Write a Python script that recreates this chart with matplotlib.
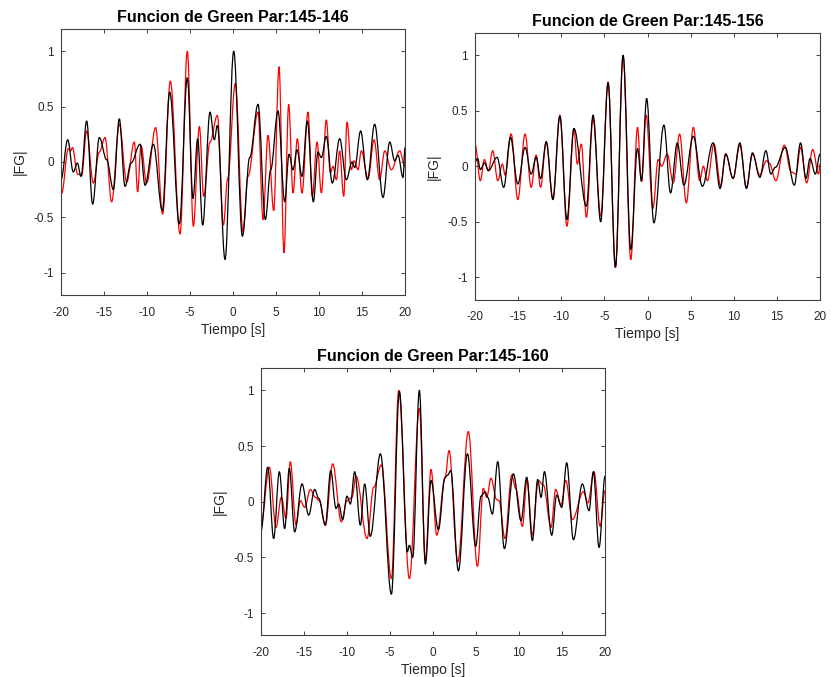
import matplotlib
matplotlib.use("Agg")
import matplotlib.pyplot as plt
from matplotlib.path import Path
from matplotlib.patches import PathPatch

plt.rcParams['font.family'] = ['Liberation Sans', 'DejaVu Sans']
plt.rcParams['axes.unicode_minus'] = False

# Panel 1: Par 145-146 (peaks/troughs)
t1_black = [-20.0, -19.22, -18.57, -18.10, -17.67, -17.02, -16.32, -15.54, -14.69, -13.91,
            -13.22, -12.56, -11.86, -10.81, -10.23, -9.26, -8.22, -7.36, -6.24, -5.31,
            -4.65, -4.11, -3.53, -2.67, -2.17, -1.82, -0.93, 0.08, 1.09, 1.94,
            2.91, 3.76, 4.38, 5.23, 6.01, 6.51, 6.98, 7.44, 8.02, 8.64,
            9.34, 9.88, 10.27, 10.85, 11.55, 12.40, 13.18, 13.84, 14.15, 14.84,
            15.62, 16.47, 17.44, 18.22, 18.80, 19.19, 19.77, 20.0]
y1_black = [-0.16, 0.20, -0.09, -0.01, -0.13, 0.37, -0.38, 0.22, 0.02, -0.25,
            0.39, -0.22, -0.01, 0.16, -0.21, 0.16, -0.44, 0.63, -0.56, 0.76,
            -0.33, 0.21, -0.57, 0.45, 0.20, 0.33, -0.88, 1.0, -0.67, 0.04,
            0.52, -0.52, -0.07, 0.46, -0.36, 0.07, -0.07, 0.11, -0.13, 0.37,
            -0.36, 0.09, 0.04, 0.23, -0.19, 0.21, -0.16, 0.0, -0.05, 0.28,
            -0.16, 0.34, -0.32, 0.18, 0.01, 0.06, -0.14, 0.13]
t1_red = [-20.0, -19.92, -19.15, -18.90, -18.68, -18.06, -17.60, -17.02, -16.24, -15.54,
          -14.88, -14.11, -13.22, -12.36, -11.47, -11.09, -10.70, -10.04, -9.0, -8.18,
          -7.29, -6.16, -5.31, -4.61, -3.91, -3.41, -2.67, -1.82, -1.12, -0.62,
          0.27, 1.16, 1.74, 2.91, 3.49, 4.07, 4.73, 5.35, 5.93, 6.47,
          6.98, 7.48, 8.02, 8.72, 9.22, 9.77, 10.27, 10.85, 11.32, 11.63,
          12.02, 12.40, 12.87, 13.26, 13.76, 14.07, 14.53, 14.92, 15.70, 16.40,
          17.05, 17.64, 18.41, 19.38, 20.0]
y1_red = [-0.21, -0.28, 0.12, 0.10, 0.13, -0.11, -0.12, 0.28, -0.19, 0.09,
          0.22, -0.36, 0.34, -0.18, 0.18, -0.27, 0.15, -0.19, 0.31, -0.47,
          0.73, -0.65, 1.0, -0.58, 0.32, -0.31, 0.18, 0.42, -0.57, -0.15,
          0.71, -0.63, -0.13, 0.45, -0.52, 0.24, -0.44, 0.86, -0.82, 0.52,
          -0.28, 0.21, -0.28, 0.45, -0.31, 0.18, -0.28, 0.38, -0.10, -0.04,
          -0.16, 0.10, -0.31, 0.36, -0.07, 0.01, -0.07, 0.10, -0.15, 0.20,
          -0.16, 0.10, -0.07, 0.10, -0.04]

# Panel 2: Par 145-156
t2_black = [-20.0, -19.69, -19.38, -18.91, -18.45, -17.44, -16.67, -15.89, -15.04, -14.19,
            -13.49, -12.91, -12.40, -11.74, -10.97, -10.16, -9.34, -8.53, -7.09, -6.31,
            -5.43, -4.57, -3.72, -2.83, -1.94, -1.16, -0.70, -0.10, 0.74, 1.90,
            2.67, 3.45, 4.22, 5.31, 6.36, 7.60, 8.41, 9.07, 9.92, 10.70,
            11.47, 12.17, 13.02, 13.72, 14.30, 14.81, 15.97, 17.02, 17.74, 18.37,
            18.84, 19.46, 20.0]
y2_black = [0.04, 0.07, -0.03, 0.03, -0.04, 0.08, -0.19, 0.26, -0.16, 0.17,
            -0.07, 0.08, -0.11, 0.22, -0.30, 0.45, -0.48, 0.34, -0.36, 0.46,
            -0.50, 0.75, -0.91, 1.0, -0.75, 0.16, -0.13, 0.61, -0.51, 0.37,
            -0.24, 0.21, -0.17, 0.27, -0.18, 0.21, -0.20, 0.11, -0.11, 0.21,
            -0.20, 0.12, -0.10, 0.14, -0.07, -0.01, 0.17, -0.17, 0.21, -0.11,
            0.07, -0.07, 0.11]
t2_red = [-20.0, -19.38, -18.91, -18.45, -17.95, -17.36, -16.82, -16.51, -15.81, -15.04,
          -14.19, -13.49, -12.91, -12.40, -11.74, -10.97, -10.16, -9.34, -8.53, -8.14,
          -7.67, -7.09, -6.31, -5.43, -4.57, -3.72, -2.83, -1.94, -1.16, -0.70,
          -0.16, 0.62, 1.24, 1.63, 2.29, 2.98, 3.72, 4.50, 5.31, 6.05,
          6.47, 6.94, 7.71, 8.49, 9.07, 9.92, 10.70, 11.47, 12.17, 13.02,
          13.80, 14.11, 14.88, 15.86, 16.63, 17.21, 17.74, 18.45, 19.15, 19.84,
          20.0]
y2_red = [0.20, -0.13, 0.06, -0.04, 0.14, -0.13, 0.02, -0.08, 0.29, -0.30,
          0.29, -0.19, 0.10, -0.19, 0.22, -0.29, 0.46, -0.54, 0.34, 0.02,
          0.20, -0.46, 0.43, -0.45, 0.76, -0.91, 0.99, -0.84, 0.35, -0.14,
          0.46, -0.38, 0.06, 0.0, 0.11, -0.15, 0.29, -0.33, 0.35, -0.13,
          0.0, -0.13, 0.20, -0.18, 0.11, -0.11, 0.19, -0.19, 0.11, -0.08,
          0.05, 0.03, -0.13, 0.19, -0.05, -0.07, 0.17, -0.15, 0.15, -0.07,
          0.02]

# Panel 3: Par 145-160
t3_black = [-20.0, -19.22, -18.53, -17.87, -17.25, -16.71, -16.09, -15.23, -14.46, -13.76,
            -13.29, -12.52, -11.90, -11.28, -10.97, -10.51, -10.0, -9.61, -9.11, -8.45,
            -7.95, -7.29, -6.12, -4.84, -3.91, -2.98, -2.75, -2.36, -1.59, -0.89,
            -0.23, 0.62, 1.40, 1.71, 2.05, 2.95, 4.0, 4.96, 5.58, 6.05,
            6.36, 6.90, 7.52, 8.29, 9.34, 10.23, 10.89, 11.55, 12.17, 12.56,
            12.95, 13.80, 14.38, 14.96, 15.54, 16.32, 17.36, 18.14, 18.64, 19.30,
            20.0]
y3_black = [-0.26, 0.31, -0.33, 0.27, -0.24, 0.30, -0.27, 0.16, -0.12, 0.11,
            0.03, -0.21, 0.28, -0.06, -0.02, -0.16, 0.05, -0.02, 0.27, -0.21,
            0.16, -0.31, 0.43, -0.83, 0.99, -0.45, -0.39, -0.50, 1.0, -0.56,
            0.19, -0.25, 0.22, 0.24, 0.28, -0.62, 0.43, -0.40, 0.05, 0.09,
            0.04, -0.11, 0.36, -0.42, 0.25, -0.17, 0.22, -0.35, 0.20, 0.04,
            0.27, -0.30, 0.06, -0.05, 0.35, -0.34, 0.16, -0.08, 0.27, -0.41,
            0.23]
t3_red = [-20.0, -19.03, -18.26, -17.64, -17.09, -16.59, -15.93, -15.43, -14.92, -14.26,
          -13.68, -13.22, -12.52, -11.67, -10.66, -10.0, -9.42, -8.95, -7.67, -6.90,
          -6.01, -4.84, -3.99, -2.75, -1.59, -0.89, -0.23, 0.43, 1.40, 1.86,
          2.87, 4.11, 5.16, 5.85, 6.24, 6.74, 7.40, 7.67, 8.37, 9.15,
          9.61, 10.39, 10.93, 11.55, 12.25, 12.83, 13.72, 14.26, 14.88, 15.43,
          16.20, 17.48, 18.0, 18.72, 19.42, 20.0]
y3_red = [-0.20, 0.31, -0.23, 0.04, -0.15, 0.36, -0.21, 0.01, -0.05, 0.11,
          0.04, 0.01, -0.21, 0.34, -0.18, 0.01, 0.04, 0.23, -0.33, 0.13,
          0.33, -0.69, 1.0, -0.69, 0.84, -0.52, 0.29, -0.30, 0.21, 0.46,
          -0.54, 0.63, -0.58, 0.12, 0.04, 0.21, 0.02, 0.01, -0.33, 0.24,
          0.12, -0.22, 0.20, -0.30, 0.19, 0.15, -0.23, 0.11, -0.03, 0.19,
          -0.16, 0.09, -0.01, 0.27, -0.22, 0.10]

titles = ['Funcion de Green Par:145-146', 'Funcion de Green Par:145-156',
          'Funcion de Green Par:145-160']
xticks = [-20, -15, -10, -5, 0, 5, 10, 15, 20]
yticks = [-1, -0.5, 0, 0.5, 1]
ytick_labels = ['-1', '-0.5', '0', '0.5', '1']


def wave(ax, t, y, color):
    # smooth line through the read peaks/troughs: flat tangent at every point
    verts = [(t[0], y[0])]
    codes = [Path.MOVETO]
    for i in range(1, len(t)):
        dt = t[i] - t[i - 1]
        verts += [(t[i - 1] + 0.363 * dt, y[i - 1]), (t[i] - 0.363 * dt, y[i]), (t[i], y[i])]
        codes += [Path.CURVE4] * 3
    ax.add_patch(PathPatch(Path(verts, codes), fill=False, edgecolor=color,
                           linewidth=0.9, transform=ax.transData))


fig = plt.figure(figsize=(8.31, 6.77), dpi=100)
positions = [[0.0734, 0.5643, 0.4140, 0.3929],
             [0.5716, 0.5576, 0.4152, 0.3937],
             [0.3141, 0.0613, 0.4140, 0.3951]]
panels = [(t1_red, y1_red, t1_black, y1_black),
          (t2_red, y2_red, t2_black, y2_black),
          (t3_red, y3_red, t3_black, y3_black)]

for pos, (tr, yr, tb, yb), title in zip(positions, panels, titles):
    ax = fig.add_axes(pos)
    wave(ax, tr, yr, '#ff0000')
    wave(ax, tb, yb, 'black')
    ax.set_xlim(-20, 20)
    ax.set_ylim(-1.2, 1.2)
    ax.set_xticks(xticks)
    ax.set_yticks(yticks)
    ax.set_yticklabels(ytick_labels)
    ax.tick_params(direction='in', length=3, width=0.6, top=True, right=True,
                   labelsize=8.5, colors='#262626')
    ax.tick_params(axis='x', pad=8.5)
    ax.tick_params(axis='y', pad=5)
    for sp in ax.spines.values():
        sp.set_color('#404040')
        sp.set_linewidth(0.8)
    ax.set_title(title, fontsize=11.5, fontweight='bold', pad=5)
    ax.set_xlabel('Tiempo [s]', fontsize=10, color='#262626', labelpad=3)
    ax.set_ylabel('|FG|', fontsize=10, color='#262626', labelpad=5)

fig.savefig('out.png', dpi=100)
